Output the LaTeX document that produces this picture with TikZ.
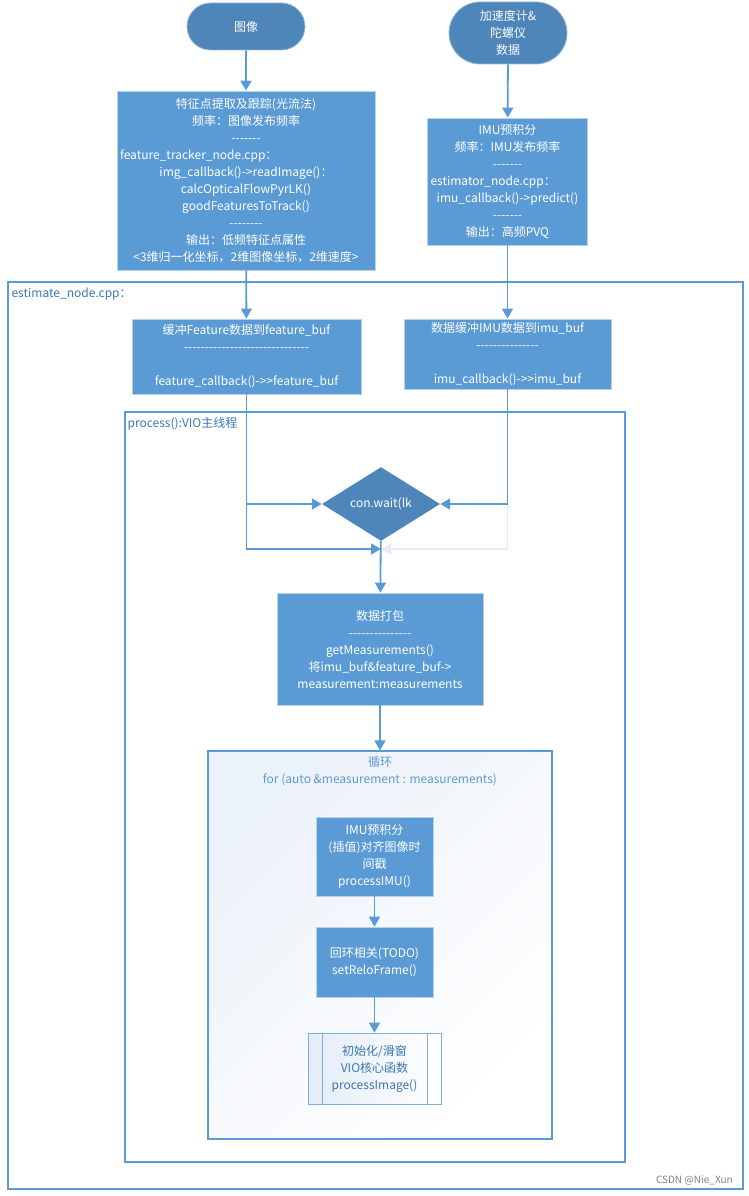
\documentclass[tikz,border=0pt]{standalone}
\usepackage{fontspec}
\usetikzlibrary{shapes.geometric,shapes.misc,arrows.meta,positioning}
\newfontfamily\cjk{Noto Sans CJK SC}
\definecolor{boxblue}{HTML}{5B9BD5}
\definecolor{darkblue}{HTML}{4E86BA}
\definecolor{textblue}{HTML}{3A77B8}
\definecolor{paleblue}{HTML}{E4ECF7}
\newcommand{\dashes}[1]{\foreach \k in {1,...,#1}{-}}
\begin{document}
\begin{tikzpicture}[x=1pt,y=-1pt]

\tikzset{
        every node/.style={font=\cjk\fontsize{12}{17}\selectfont, align=center, inner sep=0pt},
        flow/.style={draw=boxblue, line width=1.8pt, -{Triangle[length=10pt,width=11pt]}},
        block/.style={rectangle, fill=boxblue, draw=boxblue!45!white, line width=.8pt, text=white},
        terminal/.style={rounded rectangle, fill=darkblue, draw=darkblue!60!white, line width=.8pt, text=white},
        decision/.style={diamond, fill=darkblue, text=white, minimum width=118, minimum height=72},
        container/.style={rectangle, draw=boxblue, line width=1.2pt},
        caption/.style={anchor=north west, text=textblue}
}

\useasboundingbox (0,0) rectangle (748,1196);

\node[container, minimum width=735, minimum height=907] (EST) at (375.5,735.5) {};
\node[caption] (EST label) at ([shift={(4,6)}]EST.north west) {estimate\_node.cpp：};
\node[container, minimum width=500, minimum height=750] (PROC) at (375,787) {};
\node[caption] (PROC label) at ([shift={(3,6)}]PROC.north west) {process():VIO主线程};
\node[container, top color=paleblue!70!white, bottom color=white, shading angle=45, minimum width=344, minimum height=388] (LOOP) at (380,945) {};
\node[text=boxblue] (LOOP label) at (380,771) {循环\\for (auto \&measurement : measurements)};

\node[terminal, minimum width=118, minimum height=47] (IMG) at (246,26.5) {图像};
\node[terminal, minimum width=118, minimum height=62] (IMU) at (508,33) {加速度计\&\\陀螺仪\\数据};

\node[block, minimum width=258, minimum height=179, text width=252] (FT) at (246,180.5) {
特征点提取及跟踪(光流法)\\
频率：图像发布频率\\
\dashes{7}\\
\makebox[\hsize][l]{feature\_tracker\_node.cpp：}\\
img\_callback()->readImage()：\\
calcOpticalFlowPyrLK()\\
goodFeaturesToTrack()\\
\dashes{8}\\
输出：低频特征点属性\\
<3维归一化坐标，2维图像坐标，2维速度>};

\node[block, minimum width=160, minimum height=127, text width=154] (PRE) at (507.5,181.5) {
IMU预积分\\
频率：IMU发布频率\\
\dashes{7}\\
\makebox[\hsize][l]{estimator\_node.cpp：}\\
imu\_callback()->predict()\\
\dashes{7}\\
输出：高频PVQ};

\node[block, minimum width=229, minimum height=75] (FB) at (246.5,356.5) {
缓冲Feature数据到feature\_buf\\
\dashes{30}\\
\mbox{}\\
feature\_callback()->>feature\_buf};

\node[block, minimum width=207, minimum height=70] (IB) at (507.5,354) {
数据缓冲IMU数据到imu\_buf\\
\dashes{15}\\
\mbox{}\\
imu\_callback()->>imu\_buf};

\node[decision] (WAIT) at (381,504) {con.wait(lk};
\coordinate (M) at (381,549);

\node[block, minimum width=206, minimum height=112] (PACK) at (380,649) {
数据打包\\
\dashes{15}\\
getMeasurements()\\
将imu\_buf\&feature\_buf->\\
measurement:measurements};

\node[block, minimum width=117, minimum height=79] (PIMU) at (374.5,856.5) {
IMU预积分\\
(插值)对齐图像时\\
间戳\\
processIMU()};

\node[block, minimum width=117, minimum height=70] (RELO) at (374.5,962) {
回环相关(TODO)\\
setReloFrame()};

\node[rectangle, draw=boxblue!80!white, line width=.8pt, left color=paleblue, right color=white, text=textblue, minimum width=133, minimum height=71] (PIMG) at (374.5,1068.5) {
初始化/滑窗\\
VIO核心函数\\
processImage()};
\draw[boxblue!80!white, line width=.8pt] ([xshift=15]PIMG.north west) -- ([xshift=15]PIMG.south west)
        ([xshift=-14]PIMG.north east) -- ([xshift=-14]PIMG.south east);

\draw[flow, draw=paleblue] (WAIT.east -| IB.south) |- (M);
\draw[flow] (FB.south) |- (WAIT.west);
\draw[flow] (FB.south) |- (M);
\draw[flow] (IB.south) |- (WAIT.east);

\foreach \a/\b in {IMG/FT,IMU/PRE,FT/FB,PRE/IB,WAIT/PACK,PACK/LOOP,PIMU/RELO,RELO/PIMG}
        \draw[flow] (\a) -- (\b);

\node[anchor=east, text=gray, font=\cjk\fontsize{10}{12}\selectfont] (CSDN) at (733,1180) {CSDN @Nie\_Xun};

\end{tikzpicture}
\end{document}
